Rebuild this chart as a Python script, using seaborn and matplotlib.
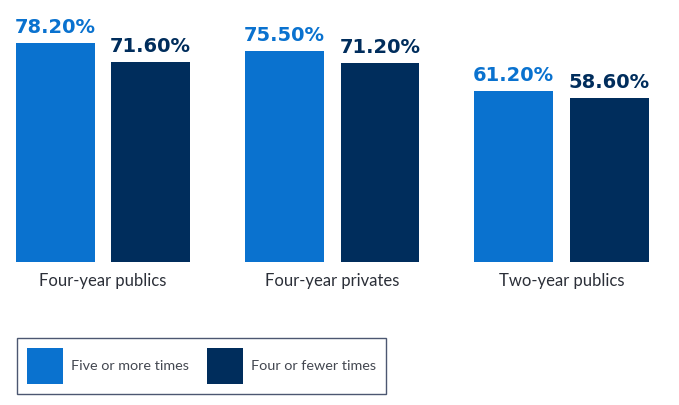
import matplotlib
matplotlib.use("Agg")
import matplotlib.pyplot as plt
import seaborn as sns
import pandas as pd
from matplotlib.patches import Patch

categories = ["Four-year publics", "Four-year privates", "Two-year publics"]
series_names = ["Five or more times", "Four or fewer times"]
five_or_more = [78.2, 75.5, 61.2]
four_or_fewer = [71.6, 71.2, 58.6]
colors = ["#0A72CF", "#002D5C"]

df = pd.DataFrame({
    "category": categories * 2,
    "series": [series_names[0]] * 3 + [series_names[1]] * 3,
    "value": five_or_more + four_or_fewer,
})

sns.set_theme(style="white")
plt.rcParams["font.family"] = ["Lato", "DejaVu Sans"]

fig = plt.figure(figsize=(6.79, 4.05), dpi=100)
H = 405.0
base_px = 262.0
ax = fig.add_axes([0, (H - base_px) / H, 1, base_px / H])

sns.barplot(data=df, x="category", y="value", hue="series",
            order=categories, hue_order=series_names,
            palette=colors, width=0.833, gap=0.173,
            saturation=1, legend=False, ax=ax, errorbar=None,
            linewidth=0)

ax.set_ylim(0, base_px / 2.80)
ax.set_xlim(-103 / 229.25, (679 - 103) / 229.25)
for s in ax.spines.values():
    s.set_visible(False)
ax.set_yticks([])
ax.set_xlabel("")
ax.set_ylabel("")
ax.tick_params(axis="x", length=0, pad=8, labelsize=12, labelcolor="#2b2f38")

for cont, c in zip(ax.containers, colors):
    ax.bar_label(cont, labels=[f"{v:.2f}%" for v in cont.datavalues],
                 padding=4, color=c, fontsize=14, fontweight="bold",
                 family="DejaVu Sans")

fs = 10.4
fs_px = fs * 100 / 72
sq = 36.0
hl = sq / fs_px
hh = (sq / fs_px - 0.245) / 0.65
handles = [Patch(facecolor=c, edgecolor="none") for c in colors]
leg = fig.legend(handles, series_names, loc="upper left",
                 bbox_to_anchor=(17 / 679, 1 - 338 / H),
                 bbox_transform=fig.transFigure,
                 ncol=2, fontsize=fs, frameon=True, fancybox=False,
                 handlelength=hl, handleheight=hh,
                 handletextpad=8 / fs_px,
                 columnspacing=18 / fs_px, borderpad=10 / fs_px,
                 borderaxespad=0,
                 labelcolor="#444851")
fr = leg.get_frame()
fr.set_edgecolor("#1f2d4d")
fr.set_linewidth(1.0)
fr.set_facecolor("white")

fig.savefig("out.png", dpi=100)
